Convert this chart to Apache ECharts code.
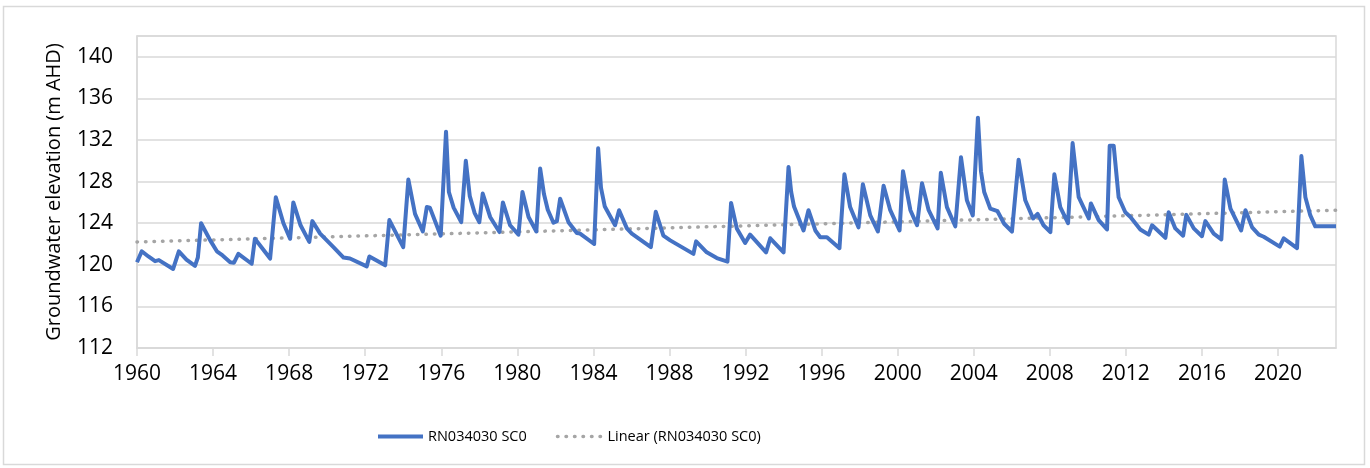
<!DOCTYPE html>
<html>
<head>
<meta charset="utf-8">
<script src="https://cdn.jsdelivr.net/npm/echarts@6/dist/echarts.min.js"></script>
<style>
html, body { margin: 0; padding: 0; background: #fff; }
#chart { width: 1370px; height: 468px; }
</style>
</head>
<body>
<div id="chart"></div>
<script>
// bore RN034030 SC0, levels
var obsYear = [1960.0,1960.25,1960.6,1960.95,1961.15,1961.9,1962.2,1962.6,1963.05,1963.2,1963.37,1963.85,1964.2,1964.5,1964.9,1965.1,1965.33,1966.03,1966.2,1967.0,1967.3,1967.7,1968.05,1968.22,1968.6,1969.06,1969.22,1969.63,1970.33,1970.86,1971.2,1972.08,1972.22,1973.05,1973.27,1974.0,1974.27,1974.62,1975.03,1975.24,1975.4,1975.97,1976.25,1976.4,1976.65,1977.05,1977.29,1977.5,1977.75,1978.0,1978.18,1978.57,1979.06,1979.24,1979.62,1980.06,1980.27,1980.59,1981.0,1981.2,1981.4,1981.6,1981.9,1982.08,1982.25,1982.69,1983.13,1983.3,1984.04,1984.25,1984.4,1984.6,1985.14,1985.35,1985.76,1986.02,1987.02,1987.28,1987.68,1988.04,1989.26,1989.4,1989.96,1990.49,1991.05,1991.24,1991.54,1991.98,1992.24,1993.08,1993.3,1994.0,1994.26,1994.4,1994.55,1995.05,1995.31,1995.67,1995.93,1996.28,1996.94,1997.2,1997.5,1997.94,1998.17,1998.56,1998.96,1999.26,1999.61,2000.1,2000.28,2000.67,2001.02,2001.28,2001.63,2002.1,2002.27,2002.59,2003.03,2003.33,2003.64,2003.95,2004.22,2004.38,2004.55,2004.87,2005.25,2005.6,2006.01,2006.36,2006.71,2007.12,2007.36,2007.67,2008.03,2008.24,2008.55,2008.96,2009.2,2009.52,2010.05,2010.16,2010.57,2011.01,2011.15,2011.36,2011.62,2011.97,2012.24,2012.76,2013.2,2013.38,2014.08,2014.25,2014.6,2015.01,2015.18,2015.57,2016.0,2016.18,2016.62,2017.02,2017.2,2017.5,2018.06,2018.29,2018.64,2018.99,2019.25,2020.09,2020.3,2021.0,2021.23,2021.44,2021.7,2021.96,2023.05];
var obsLevel = [120.25,121.3,120.8,120.35,120.45,119.6,121.3,120.5,119.9,120.7,124.0,122.35,121.3,120.9,120.25,120.2,121.05,120.1,122.5,120.6,126.5,124.0,122.5,126.0,123.8,122.2,124.2,123.0,121.7,120.7,120.6,119.85,120.8,119.95,124.3,121.7,128.2,124.9,123.2,125.55,125.5,122.8,132.8,127.0,125.5,124.1,130.0,126.6,125.0,124.1,126.85,124.6,123.15,126.0,123.8,122.9,127.0,124.6,123.2,129.25,126.8,125.3,124.05,124.2,126.35,124.1,123.05,123.0,122.0,131.2,127.4,125.6,123.8,125.25,123.5,123.0,121.7,125.1,122.8,122.35,121.05,122.25,121.2,120.65,120.3,125.95,123.5,122.1,122.9,121.2,122.55,121.2,129.4,127.0,125.6,123.3,125.25,123.3,122.65,122.65,121.6,128.7,125.55,123.6,127.75,124.75,123.2,127.6,125.25,123.3,129.0,125.25,123.8,127.85,125.25,123.5,128.85,125.55,123.7,130.35,126.2,124.75,134.15,129.0,127.0,125.4,125.15,123.95,123.2,130.1,126.2,124.45,124.9,123.8,123.15,128.7,125.55,124.0,131.7,126.5,124.45,125.9,124.3,123.4,131.45,131.45,126.5,125.05,124.6,123.4,122.9,123.8,122.6,125.05,123.5,122.8,124.8,123.5,122.75,124.2,123.0,122.45,128.2,125.4,123.3,125.25,123.6,122.9,122.7,121.75,122.55,121.6,130.45,126.5,124.75,123.7,123.7];

// linear trend end points
var trendYear = [1960.0, 2023.05];
var trendLevel = [122.2, 125.25];

var seriesNames = ['RN034030 SC0', 'Linear (RN034030 SC0)'];

var pairUp = function(xs, ys){
    var out = [];
    for(var i=0;i < xs.length;i++){
        out.push([xs[i], ys[i]]);
    }
    return out;
};

var gridCol = '#d9d9d9';
var txtCol = '#000';

var option = {
    animation: false,
    backgroundColor: '#fff',
    graphic: [{
        type: 'rect',
        shape: { x: 3.5, y: 6.5, width: 1361, height: 458 },
        style: { fill: 'none', stroke: gridCol, lineWidth: 1.5 },
        silent: true
    }],
    grid: {
        left: 137,
        right: 34,
        top: 36,
        bottom: 120,
        show: true,
        borderColor: gridCol,
        borderWidth: 1.5
    },
    legend: {
        left: 371,
        top: 424,
        itemWidth: 45,
        itemHeight: 16,
        itemGap: 29,
        itemStyle: { opacity: 0 },
        textStyle: { fontFamily: 'Open Sans', fontSize: 14.5, color: txtCol },
        data: [
            { name: seriesNames[0], lineStyle: { width: 4 } },
            { name: seriesNames[1], lineStyle: { width: 3.5 } }
        ]
    },
    xAxis: {
        type: 'value',
        min: 1960,
        max: 2023.05,
        interval: 4,
        axisLine: { show: true, lineStyle: { color: gridCol, width: 1.5 } },
        axisTick: { show: true, length: 8, lineStyle: { color: gridCol, width: 1.5 } },
        axisLabel: {
            showMaxLabel: false,
            margin: 16,
            fontFamily: 'Open Sans',
            fontSize: 21,
            color: txtCol,
            formatter: function(v){ return String(v); }
        },
        splitLine: { show: false }
    },
    yAxis: {
        type: 'value',
        min: 112,
        max: 142,
        interval: 4,
        name: 'Groundwater elevation (m AHD)',
        nameLocation: 'middle',
        nameGap: 73,
        nameTextStyle: { fontFamily: 'Open Sans', fontSize: 20, color: txtCol },
        axisLine: { show: true, lineStyle: { color: gridCol, width: 1.5 } },
        axisTick: { show: false },
        axisLabel: {
            showMaxLabel: false,
            margin: 24,
            fontFamily: 'Open Sans',
            fontSize: 21,
            color: txtCol
        },
        splitLine: { show: true, lineStyle: { color: gridCol, width: 1.5 } }
    },
    series: [
        {
            name: seriesNames[0],
            type: 'line',
            symbol: 'none',
            z: 3,
            lineStyle: { color: '#4472c4', width: 4, join: 'round' },
            itemStyle: { color: '#4472c4', opacity: 0 },
            data: pairUp(obsYear, obsLevel)
        },
        {
            name: seriesNames[1],
            type: 'line',
            symbol: 'none',
            z: 2,
            lineStyle: { color: '#a5a5a5', width: 3.5, type: [0.5, 8], cap: 'round' },
            itemStyle: { color: '#a5a5a5', opacity: 0 },
            data: pairUp(trendYear, trendLevel)
        }
    ]
};

var myChart = echarts.init(document.getElementById('chart'));
myChart.setOption(option);
</script>
</body>
</html>
